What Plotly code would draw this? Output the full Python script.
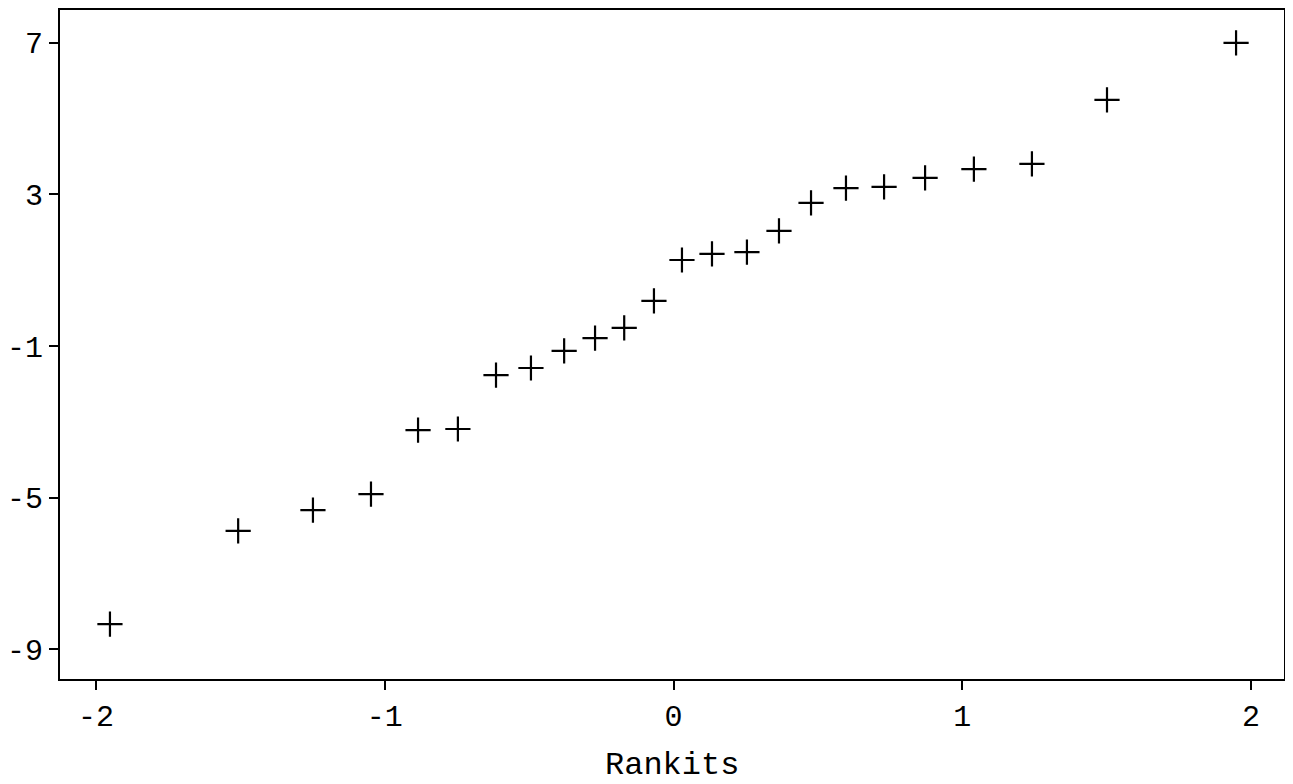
import plotly.graph_objects as go

rankits = [-1.952, -1.508, -1.249, -1.048, -0.885, -0.747, -0.615, -0.494,
           -0.379, -0.272, -0.171, -0.068, 0.029, 0.133, 0.254, 0.365,
           0.476, 0.597, 0.729, 0.871, 1.040, 1.241, 1.501, 1.948]
values = [-8.34, -5.88, -5.33, -4.91, -3.22, -3.19, -1.77, -1.58,
          -1.13, -0.79, -0.52, 0.19, 1.27, 1.43, 1.48, 2.04,
          2.78, 3.17, 3.20, 3.44, 3.67, 3.81, 5.50, 7.00]

x_ticks = [-2, -1, 0, 1, 2]
x_tick_labels = ["-2", "-1", "0", "1", "2"]
y_ticks = [-9, -5, -1, 3, 7]
y_tick_labels = ["-9", "-5", "-1", "3", "7"]
x_title = "Rankits"

FONT = "Liberation Mono, Courier New, monospace"

fig = go.Figure()
fig.add_trace(go.Scatter(
    x=rankits, y=values, mode="markers",
    marker=dict(symbol="cross-thin", size=18, color="black",
                line=dict(color="black", width=2.2)),
    showlegend=False, hoverinfo="x+y",
))

axis_common = dict(
    showgrid=False, zeroline=False, showline=True, linecolor="black",
    linewidth=2, mirror=True, ticks="outside", ticklen=9, tickwidth=2,
    tickcolor="black", tickfont=dict(family=FONT, size=30, color="black"),
)

fig.update_xaxes(range=[-2.125, 2.114], tickmode="array", tickvals=x_ticks,
                 ticktext=x_tick_labels, **axis_common)
fig.update_yaxes(range=[-9.79, 7.87], tickmode="array", tickvals=y_ticks,
                 ticktext=y_tick_labels, **axis_common)

fig.add_annotation(
    text=x_title, xref="paper", yref="paper", x=0.5, y=0,
    xanchor="center", yanchor="middle", yshift=-86, showarrow=False,
    font=dict(family=FONT, size=32, color="black"),
)

fig.update_layout(
    width=1277, height=776,
    margin=dict(l=52, r=1, t=2, b=105, autoexpand=False),
    plot_bgcolor="white", paper_bgcolor="white",
    font=dict(family=FONT, color="black"),
)

fig.write_html("out.html")
